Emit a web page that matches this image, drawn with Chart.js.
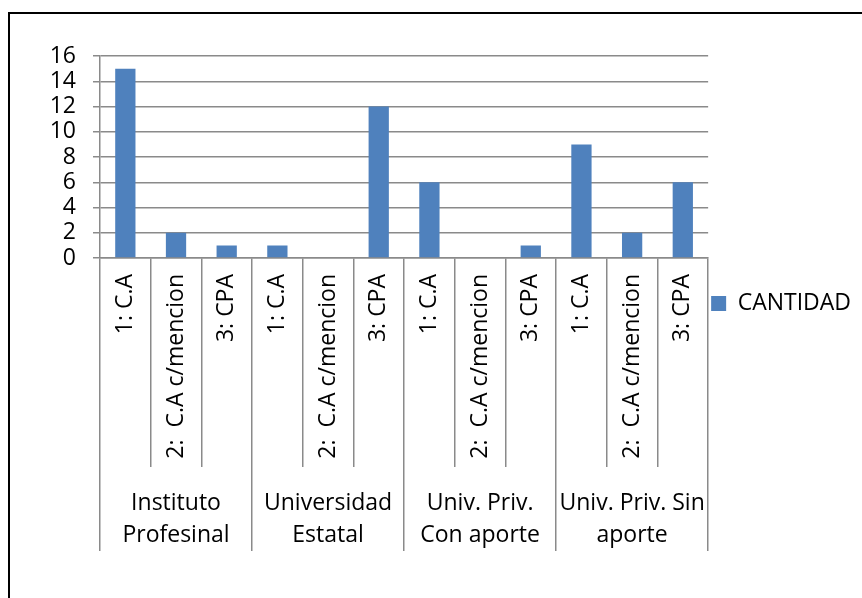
<!DOCTYPE html>
<html>
<head>
<meta charset="utf-8">
<script src="https://cdn.jsdelivr.net/npm/chart.js@4/dist/chart.umd.min.js"></script>
<style>
  html, body { margin: 0; padding: 0; background: #fff; overflow: hidden; }
  canvas { display: block; }
</style>
</head>
<body>
<canvas id="c" width="862" height="598"></canvas>
<script>
// ---- data ----
const subCategories = ["1: C.A", "2:  C.A c/mencion", "3: CPA",
                       "1: C.A", "2:  C.A c/mencion", "3: CPA",
                       "1: C.A", "2:  C.A c/mencion", "3: CPA",
                       "1: C.A", "2:  C.A c/mencion", "3: CPA"];
const groupLabels = [["Instituto", "Profesinal"],
                     ["Universidad", "Estatal"],
                     ["Univ. Priv.", "Con aporte"],
                     ["Univ. Priv. Sin", "aporte"]];
const cantidad = [15, 2, 1, 1, 0, 12, 6, 0, 1, 9, 2, 6];
const seriesName = "CANTIDAD";
const yMin = 0, yMax = 16, yStep = 2;

const FONT = "'Open Sans', 'Liberation Sans', sans-serif";
const GRID = "#8a8a8a";

const frame = {
  id: 'frame',
  beforeDraw(chart) {
    const ctx = chart.ctx;
    ctx.save();
    ctx.fillStyle = '#fff';
    ctx.fillRect(0, 0, chart.width, chart.height);
    ctx.strokeStyle = '#000';
    ctx.lineWidth = 2;
    ctx.beginPath();
    ctx.moveTo(9, chart.height);
    ctx.lineTo(9, 13);
    ctx.lineTo(chart.width, 13);
    ctx.stroke();
    ctx.restore();
  }
};

new Chart(document.getElementById('c'), {
  type: 'bar',
  data: {
    labels: subCategories,
    datasets: [{
      label: seriesName,
      data: cantidad,
      backgroundColor: '#4F81BD',
      borderWidth: 0,
      barPercentage: 0.4,
      categoryPercentage: 1.0
    }]
  },
  options: {
    responsive: false,
    animation: false,
    devicePixelRatio: 1,
    layout: { padding: { top: 56, left: 0, right: 1, bottom: 47 } },
    plugins: {
      legend: {
        position: 'right',
        align: 'center',
        labels: {
          boxWidth: 15, boxHeight: 15, padding: 3,
          color: '#000',
          font: { family: FONT, size: 23 }
        }
      },
      tooltip: { enabled: false }
    },
    scales: {
      y: {
        min: yMin, max: yMax,
        ticks: { stepSize: yStep, autoSkip: false, color: '#000', padding: 17, font: { family: FONT, size: 23 } },
        grid: { color: GRID, lineWidth: 1.5, tickLength: 7 },
        border: { color: GRID, width: 1.5 },
        afterFit(s) { s.width = 100; }
      },
      x: {
        weight: 0,
        offset: true,
        ticks: {
          minRotation: 90, maxRotation: 90, autoSkip: false,
          color: '#000', padding: -193,
          font: { family: FONT, size: 23 }
        },
        grid: { offset: true, drawOnChartArea: false, color: GRID, lineWidth: 1.5, tickLength: 209 },
        border: { color: GRID, width: 1.5 },
        afterFit(s) { s.height = 209; }
      },
      x2: {
        type: 'category',
        position: 'bottom',
        weight: 1,
        labels: groupLabels,
        offset: true,
        ticks: {
          maxRotation: 0, minRotation: 0, autoSkip: false,
          color: '#000', padding: -64,
          font: { family: FONT, size: 23, lineHeight: 1.4 }
        },
        grid: { offset: true, drawOnChartArea: false, color: GRID, lineWidth: 1.5, tickLength: 84 },
        border: { display: false },
        afterFit(s) { s.height = 84; }
      }
    }
  },
  plugins: [frame]
});
</script>
</body>
</html>
